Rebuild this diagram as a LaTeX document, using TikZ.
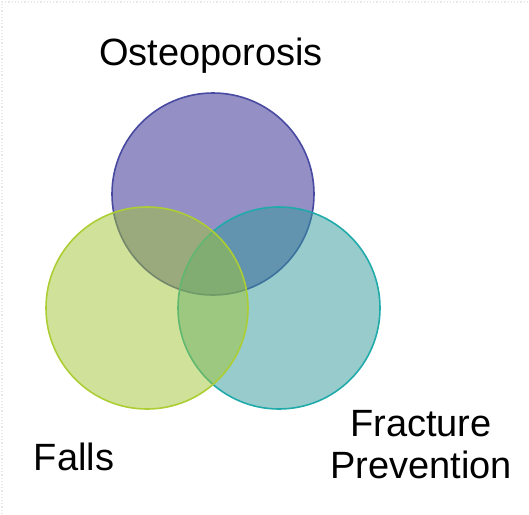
\documentclass[tikz,border=0pt]{standalone}
\usepackage{fontspec}
\setmainfont{Liberation Sans}
\definecolor{ostfill}{RGB}{41,33,141}
\definecolor{ostline}{RGB}{72,74,162}
\definecolor{fallfill}{RGB}{161,197,53}
\definecolor{fallline}{RGB}{172,206,52}
\definecolor{fracfill}{RGB}{49,153,153}
\definecolor{fracline}{RGB}{32,170,170}
\tikzset{
  venn/.style={circle, inner sep=0pt, outer sep=0pt, minimum size=101pt,
    line width=0.8pt, fill opacity=0.5},
  setlabel/.style={font=\fontsize{19}{21}\selectfont, align=center, inner sep=0pt}
}
\begin{document}
\begin{tikzpicture}[x=0.5pt, y=-0.5pt]
    % 1. Khung
    \useasboundingbox (0,0) rectangle (529,514);
    \draw[gray!18, densely dotted, line width=0.6pt] (2,514) -- (2,2) -- (529,2);

    % 2. Ba hình tròn
    \node[venn, draw=ostline, fill=ostfill] (ost) at (213,194) {};
    \node[venn, draw=fracline, fill=fracfill] (frac) at (279,308) {};
    \node[venn, draw=fallline, fill=fallfill] (falls) at (147,308) {};

    % 3. Nhãn
    \node[setlabel, anchor=base] (ostlabel) at (211,65) {Osteoporosis};
    \node[setlabel, anchor=base] (falllabel) at (74,470) {Falls};
    \node[setlabel, anchor=base] (fraclabel) at (421,478) {Fracture\\Prevention};
\end{tikzpicture}
\end{document}
